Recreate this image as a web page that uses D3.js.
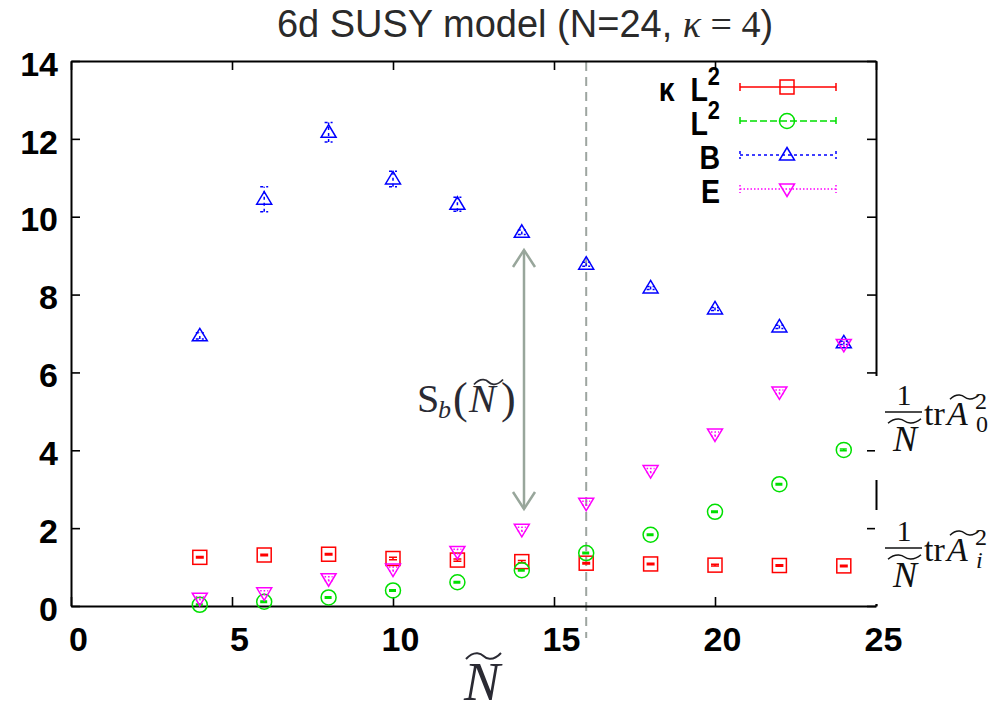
<!DOCTYPE html>
<html>
<head>
<meta charset="utf-8">
<script src="https://cdn.jsdelivr.net/npm/d3@7"></script>
<style>
  body { margin: 0; background: #fff; }
  svg { display: block; }
</style>
</head>
<body>
<svg id="chart" width="1003" height="713"></svg>
<script>
// Matrix size values on the horizontal axis
const Ntilde = [4, 6, 8, 10, 12, 14, 16, 18, 20, 22, 24];

// Observables at each Ñ
const kappaL2    = [1.25, 1.31, 1.33, 1.22, 1.18, 1.14, 1.10, 1.08, 1.05, 1.04, 1.03];
const kappaL2Err = [0.02, 0.02, 0.02, 0.03, 0.03, 0.03, 0.02, 0.02, 0.02, 0.02, 0.02];
const L2         = [0.03, 0.11, 0.22, 0.40, 0.61, 0.92, 1.36, 1.83, 2.42, 3.13, 4.01];
const L2Err      = [0.02, 0.02, 0.02, 0.02, 0.02, 0.02, 0.02, 0.02, 0.02, 0.02, 0.02];
const Bvals      = [6.94, 10.45, 12.17, 10.97, 10.32, 9.60, 8.78, 8.17, 7.63, 7.17, 6.76];
const Berr       = [0.08, 0.32, 0.25, 0.20, 0.18, 0.06, 0.05, 0.04, 0.04, 0.04, 0.04];
const Evals      = [0.20, 0.34, 0.70, 0.95, 1.40, 1.97, 2.64, 3.48, 4.42, 5.50, 6.72];
const Eerr       = [0.04, 0.05, 0.05, 0.05, 0.06, 0.05, 0.05, 0.05, 0.05, 0.05, 0.05];

const xTicks = [0, 5, 10, 15, 20, 25];
const yTicks = [0, 2, 4, 6, 8, 10, 12, 14];
const markerLine = 16;   // Ñ where the dashed reference line sits

const series = [
  { name: "kL2", values: kappaL2, errors: kappaL2Err, color: "#ff0000", dash: null,     marker: "square" },
  { name: "L2",  values: L2,      errors: L2Err,      color: "#00e000", dash: "7,3",    marker: "circle" },
  { name: "B",   values: Bvals,   errors: Berr,       color: "#0000ff", dash: "3,3",    marker: "triUp" },
  { name: "E",   values: Evals,   errors: Eerr,       color: "#ff00ff", dash: "1.5,2", marker: "triDown" }
];

const svg = d3.select("#chart");
const pLeft = 71, pRight = 876, pTop = 61, pBottom = 606;
const x = d3.scaleLinear().domain([0, 25]).range([pLeft, pRight]);
const y = d3.scaleLinear().domain([0, 14]).range([pBottom, pTop]);

const SANS = "'Liberation Sans', Arial, Helvetica, sans-serif";
const SERIF = "'Liberation Serif', 'Times New Roman', serif";

// ---- title ----
const title = svg.append("text")
  .attr("x", 525).attr("y", 37)
  .attr("text-anchor", "middle")
  .attr("fill", "#2a2a2a")
  .style("font-family", SANS).style("font-size", "38px");
title.append("tspan").text("6d SUSY model (N=24, ");
title.append("tspan").style("font-family", SERIF).style("font-style", "italic").text("κ");
title.append("tspan").style("font-family", SERIF).text(" = 4");
title.append("tspan").text(")");

// ---- vertical dashed reference line ----
svg.append("line")
  .attr("x1", x(markerLine)).attr("x2", x(markerLine))
  .attr("y1", pTop + 1).attr("y2", 638)
  .attr("stroke", "#9da5a0").attr("stroke-width", 2)
  .attr("stroke-dasharray", "9,6");

// ---- axes (ticks point inward, mirrored on top/right) ----
const axisStyle = g => {
  g.selectAll(".domain").attr("stroke", "#000").attr("stroke-width", 2);
  g.selectAll(".tick line").attr("stroke", "#000").attr("stroke-width", 1.6);
  g.selectAll(".tick text")
    .attr("fill", "#000")
    .style("font-family", SANS).style("font-weight", "bold").style("font-size", "34px");
};

svg.append("g").attr("transform", `translate(0,${pBottom})`)
  .call(d3.axisBottom(x).tickValues(xTicks).tickSizeInner(-9).tickSizeOuter(0).tickPadding(21))
  .call(axisStyle)
  .call(g => g.selectAll(".tick text").attr("dx", 7));

svg.append("g").attr("transform", `translate(${pLeft},0)`)
  .call(d3.axisLeft(y).tickValues(yTicks).tickSizeInner(-9).tickSizeOuter(0).tickPadding(13))
  .call(axisStyle)
  .call(g => g.selectAll(".tick text").attr("dy", "0.42em"));

svg.append("g").attr("transform", `translate(0,${pTop})`)
  .call(d3.axisTop(x).tickValues(xTicks).tickSizeInner(-9).tickSizeOuter(0).tickFormat(""))
  .call(axisStyle);

svg.append("g").attr("transform", `translate(${pRight},0)`)
  .call(d3.axisRight(y).tickValues(yTicks).tickSizeInner(-9).tickSizeOuter(0).tickFormat(""))
  .call(axisStyle);

// ---- x axis title: Ñ ----
function tilde(g, x0, x1, yc, amp, color, width) {
  const w = x1 - x0;
  g.append("path")
    .attr("d", `M${x0},${yc + amp} C${x0 + w * 0.25},${yc - amp * 2.2} ${x0 + w * 0.45},${yc - amp * 0.6} ${x0 + w / 2},${yc}` +
               ` S${x0 + w * 0.75},${yc + amp * 2.2} ${x1},${yc - amp}`)
    .attr("fill", "none").attr("stroke", color).attr("stroke-width", width);
}

svg.append("text")
  .attr("x", 482).attr("y", 700).attr("text-anchor", "middle")
  .attr("fill", "#2a2a33")
  .style("font-family", SERIF).style("font-style", "italic").style("font-size", "54px")
  .text("N");
tilde(svg, 466, 501, 656, 3, "#2a2a33", 2);

// ---- markers ----
function drawMarker(g, type, cx, cy, color) {
  if (type === "square") {
    g.append("rect").attr("x", cx - 7).attr("y", cy - 7).attr("width", 14).attr("height", 14)
      .attr("fill", "none").attr("stroke", color).attr("stroke-width", 1.5);
  } else if (type === "circle") {
    g.append("circle").attr("cx", cx).attr("cy", cy).attr("r", 7.5)
      .attr("fill", "none").attr("stroke", color).attr("stroke-width", 1.5);
  } else if (type === "triUp") {
    g.append("path").attr("d", `M${cx},${cy - 7.5}L${cx + 7.5},${cy + 5}L${cx - 7.5},${cy + 5}Z`)
      .attr("fill", "none").attr("stroke", color).attr("stroke-width", 1.5);
  } else {
    g.append("path").attr("d", `M${cx},${cy + 7.5}L${cx + 7.5},${cy - 5}L${cx - 7.5},${cy - 5}Z`)
      .attr("fill", "none").attr("stroke", color).attr("stroke-width", 1.5);
  }
}

function errorBar(g, cx, yLo, yHi, s) {
  const cap = 4;
  const p = `M${cx},${yLo}L${cx},${yHi}M${cx - cap},${yLo}L${cx + cap},${yLo}M${cx - cap},${yHi}L${cx + cap},${yHi}`;
  g.append("path").attr("d", p).attr("fill", "none")
    .attr("stroke", s.color).attr("stroke-width", 1.5)
    .attr("stroke-dasharray", s.dash);
}

const plot = svg.append("g");
series.forEach(s => {
  const g = plot.append("g");
  Ntilde.forEach((n, i) => {
    const v = s.values[i], e = s.errors[i];
    errorBar(g, x(n), y(v - e), y(v + e), s);
    drawMarker(g, s.marker, x(n), y(v), s.color);
  });
});

// ---- legend ----
const legendRows = [87, 121, 155, 189];
const legend = svg.append("g");
series.forEach((s, i) => {
  const ly = legendRows[i];
  const x0 = 740, x1 = 836;
  legend.append("path")
    .attr("d", `M${x0},${ly}L${x1},${ly}M${x0},${ly - 4}L${x0},${ly + 4}M${x1},${ly - 4}L${x1},${ly + 4}`)
    .attr("fill", "none").attr("stroke", s.color).attr("stroke-width", 1.5)
    .attr("stroke-dasharray", s.dash);
  drawMarker(legend, s.marker, 787, ly, s.color);
});

function legendLabel(ly, main, sup) {
  const t = legend.append("text")
    .attr("transform", `translate(720,${ly + 14}) scale(0.84,1)`)
    .attr("text-anchor", "end")
    .attr("fill", "#000")
    .style("white-space", "pre")
    .style("font-family", SANS).style("font-weight", "bold").style("font-size", "34px");
  t.append("tspan").text(main);
  if (sup) t.append("tspan").attr("dy", -16).style("font-size", "26px").text(sup);
}
legendLabel(legendRows[0], "κ  L", "2");
legendLabel(legendRows[1], "L", "2");
legendLabel(legendRows[2], "B", null);
legendLabel(legendRows[3], "E", null);

// ---- S_b(Ñ) gap annotation ----
const arrowX = 524, arrowTop = 250, arrowBot = 509;
const ann = svg.append("g").attr("stroke", "#98a69b").attr("stroke-width", 2.5).attr("fill", "none");
ann.append("line").attr("x1", arrowX).attr("x2", arrowX).attr("y1", arrowTop).attr("y2", arrowBot);
ann.append("path").attr("d", `M${arrowX - 11},${arrowTop + 17}L${arrowX},${arrowTop}L${arrowX + 11},${arrowTop + 17}`);
ann.append("path").attr("d", `M${arrowX - 11},${arrowBot - 17}L${arrowX},${arrowBot}L${arrowX + 11},${arrowBot - 17}`);

const annText = svg.append("g").attr("fill", "#2a2a33").style("font-family", SERIF);
annText.append("text").attr("x", 417).attr("y", 412).style("font-size", "40px").text("S");
annText.append("text").attr("x", 438).attr("y", 418).style("font-size", "26px").style("font-style", "italic").text("b");
annText.append("text").attr("x", 453).attr("y", 413).style("font-size", "44px").text("(");
annText.append("text").attr("x", 469).attr("y", 412).style("font-size", "40px").style("font-style", "italic").text("N");
annText.append("text").attr("x", 501).attr("y", 413).style("font-size", "44px").text(")");
tilde(svg, 474, 503, 382, 2.5, "#2a2a33", 1.8);

// ---- right-hand labels: (1/Ñ) tr Ã_μ² ----
const labelPanels = [[376, 480], [510, 604]];
labelPanels.forEach(([y0, y1]) =>
  svg.append("rect").attr("x", 875).attr("y", y0).attr("width", 128).attr("height", y1 - y0).attr("fill", "#fff"));

function traceLabel(barY, sub) {
  const g = svg.append("g").attr("fill", "#111").style("font-family", SERIF);
  g.append("text").attr("x", 904).attr("y", barY - 7).attr("text-anchor", "middle").style("font-size", "30px").text("1");
  g.append("line").attr("x1", 885).attr("x2", 922).attr("y1", barY).attr("y2", barY).attr("stroke", "#111").attr("stroke-width", 1.5);
  g.append("text").attr("x", 905).attr("y", barY + 39).attr("text-anchor", "middle")
    .style("font-size", "36px").style("font-style", "italic").text("N");
  tilde(svg, 888, 921, barY + 9, 2.2, "#111", 1.5);
  g.append("text").attr("x", 924).attr("y", barY + 13).style("font-size", "34px").text("tr");
  // Ã with its superscript and subscript stacked on the right
  const a = g.append("text").attr("x", 947).attr("y", barY + 13).style("font-size", "34px");
  a.append("tspan").style("font-style", "italic").text("A");
  a.append("tspan").attr("x", 975).attr("y", barY - 3).style("font-size", "24px").text("2");
  a.append("tspan").attr("x", 976).attr("y", barY + 20).style("font-size", "24px")
    .style("font-style", sub === "i" ? "italic" : "normal").text(sub);
  tilde(svg, 950, 979, barY - 15, 2.2, "#111", 1.5);
}
traceLabel(412, "0");
traceLabel(548, "i");
</script>
</body>
</html>
